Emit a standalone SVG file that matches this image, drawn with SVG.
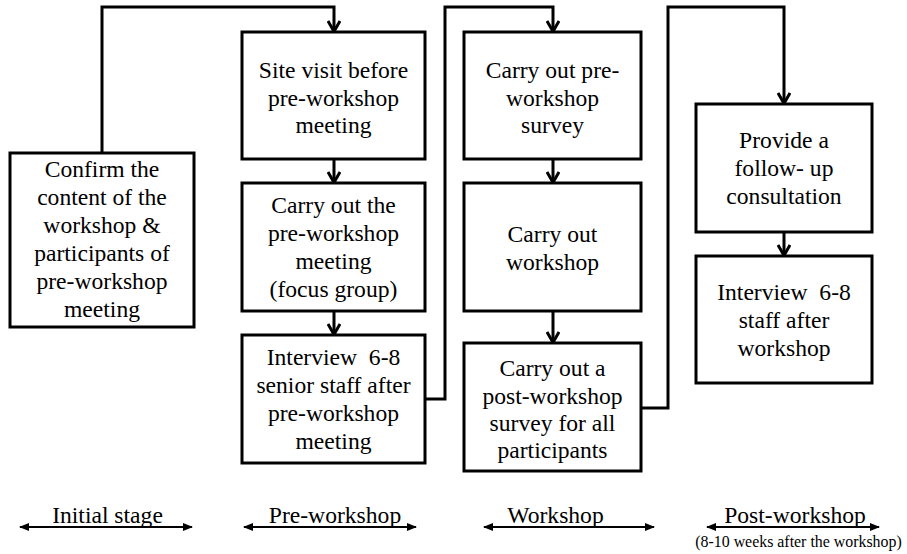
<svg xmlns="http://www.w3.org/2000/svg" width="907" height="554" viewBox="0 0 907 554">
  <style>
    .box { fill: #ffffff; stroke: #000000; stroke-width: 3; }
    text { font-family: "Liberation Serif", "Times New Roman", serif; fill: #000000; text-anchor: middle; }
    .lbl { font-size: 23.6px; }
    .note { font-size: 15.9px; }
    .flow { fill: none; stroke: #000000; stroke-width: 3; marker-end: url(#chev); }
    .span { fill: none; stroke: #000000; stroke-width: 2; marker-start: url(#tri); marker-end: url(#tri); }
  </style>
  <defs>
    <marker id="chev" markerUnits="userSpaceOnUse" viewBox="0 0 14 14" refX="12.5" refY="7" markerWidth="14" markerHeight="14" orient="auto">
      <polyline points="1.5,1 12,7 1.5,13" fill="none" stroke="#000000" stroke-width="3"/>
    </marker>
    <marker id="tri" markerUnits="userSpaceOnUse" viewBox="0 0 10 10" refX="9" refY="5" markerWidth="10" markerHeight="10" orient="auto-start-reverse">
      <path d="M0,1 L10,5 L0,9 Z" fill="#000000"/>
    </marker>
  </defs>

  <!-- connectors -->
  <g id="connectors">
    <polyline class="flow" points="102,153 102,7 334,7 334,32"/>
    <line class="flow" x1="334" y1="159" x2="334" y2="183"/>
    <line class="flow" x1="334" y1="311" x2="334" y2="335"/>
    <polyline class="flow" points="425,399 445,399 445,7 553,7 553,32"/>
    <line class="flow" x1="553" y1="159" x2="553" y2="183"/>
    <line class="flow" x1="553" y1="311" x2="553" y2="343"/>
    <polyline class="flow" points="641,408 668,408 668,7 784,7 784,104"/>
    <line class="flow" x1="784" y1="232" x2="784" y2="256"/>
  </g>

  <!-- initial stage -->
  <g id="confirm">
    <rect class="box" x="10" y="153" width="184" height="174"/>
    <text class="lbl"><tspan x="102" y="177">Confirm the</tspan><tspan x="102" y="205">content of the</tspan><tspan x="102" y="233">workshop &amp;</tspan><tspan x="102" y="261">participants of</tspan><tspan x="102" y="289">pre-workshop</tspan><tspan x="102" y="317">meeting</tspan></text>
  </g>

  <!-- pre-workshop -->
  <g id="site-visit">
    <rect class="box" x="242" y="32" width="183" height="127"/>
    <text class="lbl"><tspan x="333.5" y="78">Site visit before</tspan><tspan x="333.5" y="105.5">pre-workshop</tspan><tspan x="333.5" y="133">meeting</tspan></text>
  </g>
  <g id="pre-meeting">
    <rect class="box" x="242" y="183" width="183" height="128"/>
    <text class="lbl"><tspan x="333.5" y="213">Carry out the</tspan><tspan x="333.5" y="241">pre-workshop</tspan><tspan x="333.5" y="269">meeting</tspan><tspan x="333.5" y="297">(focus group)</tspan></text>
  </g>
  <g id="senior-interview">
    <rect class="box" x="242" y="335" width="183" height="128"/>
    <text class="lbl" xml:space="preserve"><tspan x="333.5" y="365">Interview  6-8</tspan><tspan x="333.5" y="393">senior staff after</tspan><tspan x="333.5" y="421">pre-workshop</tspan><tspan x="333.5" y="449">meeting</tspan></text>
  </g>

  <!-- workshop -->
  <g id="pre-survey">
    <rect class="box" x="464" y="32" width="177" height="127"/>
    <text class="lbl"><tspan x="552.5" y="78">Carry out pre-</tspan><tspan x="552.5" y="105.5">workshop</tspan><tspan x="552.5" y="133">survey</tspan></text>
  </g>
  <g id="workshop">
    <rect class="box" x="464" y="183" width="177" height="128"/>
    <text class="lbl"><tspan x="552.5" y="242">Carry out</tspan><tspan x="552.5" y="270">workshop</tspan></text>
  </g>
  <g id="post-survey">
    <rect class="box" x="464" y="343" width="177" height="128"/>
    <text class="lbl"><tspan x="552.5" y="376">Carry out a</tspan><tspan x="552.5" y="404">post-workshop</tspan><tspan x="552.5" y="431">survey for all</tspan><tspan x="552.5" y="458">participants</tspan></text>
  </g>

  <!-- post-workshop -->
  <g id="follow-up">
    <rect class="box" x="696" y="104" width="176" height="128"/>
    <text class="lbl"><tspan x="784" y="148">Provide a</tspan><tspan x="784" y="176">follow- up</tspan><tspan x="784" y="204">consultation</tspan></text>
  </g>
  <g id="staff-interview">
    <rect class="box" x="696" y="256" width="176" height="127"/>
    <text class="lbl" xml:space="preserve"><tspan x="784" y="300">Interview  6-8</tspan><tspan x="784" y="328">staff after</tspan><tspan x="784" y="356">workshop</tspan></text>
  </g>

  <!-- stage bands -->
  <g id="stages">
    <line class="span" x1="20" y1="527" x2="192" y2="527"/>
    <line class="span" x1="244" y1="527" x2="416" y2="527"/>
    <line class="span" x1="484" y1="527" x2="654" y2="527"/>
    <line class="span" x1="707" y1="527" x2="879" y2="527"/>
    <text class="lbl" x="107.5" y="523">Initial stage</text>
    <text class="lbl" x="335" y="523">Pre-workshop</text>
    <text class="lbl" x="555.5" y="523">Workshop</text>
    <text class="lbl" x="795" y="523">Post-workshop</text>
    <text class="note" x="798.5" y="547">(8-10 weeks after the workshop)</text>
  </g>
</svg>
